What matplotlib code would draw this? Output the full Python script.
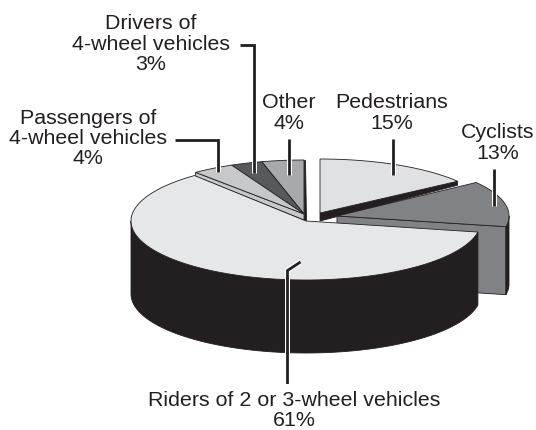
import numpy as np
import matplotlib
matplotlib.use("Agg")
import matplotlib.pyplot as plt
from matplotlib.patches import Polygon

categories = ["Pedestrians", "Cyclists", "Riders of 2 or 3-wheel vehicles",
              "Passengers of\n4-wheel vehicles", "Drivers of\n4-wheel vehicles", "Other"]
shares = [15, 13, 61, 4, 3, 4]
top_colors = ["#e0e1e3", "#808285", "#e6e7e8", "#c7c8ca", "#58595b", "#a7a9ac"]
DARK = "#231f20"
GREY = "#808285"
LIGHT = "#c7c8ca"
# slice centre x, y, radius x, radius y (pixels of the figure)
geometry = [(320, 213, 170, 54), (337, 216, 172, 57), (306, 221, 175, 59),
            (304, 214, 170, 54), (304, 214, 170, 54), (304, 214, 170, 54)]
DEPTH_CYCLISTS = 68
DEPTH_RIDERS = 73

plt.rcParams["font.family"] = ["Liberation Sans", "DejaVu Sans"]
fig = plt.figure(figsize=(5.36, 4.30), dpi=100)
ax = fig.add_axes([0, 0, 1, 1])
ax.set_xlim(0, 536)
ax.set_ylim(430, 0)
ax.axis("off")

ends = 90 - np.cumsum(shares) * 3.6
starts = ends + np.array(shares) * 3.6


def arc(g, a0, a1, n=160):
    t = np.radians(np.linspace(a0, a1, n))
    return np.column_stack([g[0] + g[2] * np.cos(t), g[1] - g[3] * np.sin(t)])


def point(g, a):
    return arc(g, a, a, 1)[0]


def poly(pts, fc, z, lw=0.6):
    ax.add_patch(Polygon(np.asarray(pts), closed=True, fc=fc, ec=DARK, lw=lw, zorder=z))


def top(i, z):
    g = geometry[i]
    poly(np.vstack([[g[0], g[1]], arc(g, starts[i], ends[i])]), top_colors[i], z)


def wall(i, lo, hi, depth, fc, z):
    f = arc(geometry[i], lo, hi)
    poly(np.vstack([f, (f + [0, depth])[::-1]]), fc, z)


def cut(i, angle, d_apex, d_tip, fc, z):
    g = geometry[i]
    apex = np.array([g[0], g[1]], float)
    tip = point(g, angle)
    poly([apex, tip, tip + [0, d_tip], apex + [0, d_apex]], fc, z)


# small upper slices with their thin side strips
g_other = geometry[5]
edge_top = point(g_other, ends[5])
poly([(g_other[0], g_other[1]), edge_top, edge_top + [1.5, 0],
      (g_other[0] + 1.5, g_other[1] + 6), (g_other[0], g_other[1] + 6)], DARK, 1)
top(5, 1.1)
top(4, 1.2)
cut(3, starts[3], 6, 4, LIGHT, 1.3)
top(3, 1.4)

# pedestrians with the black cut under its lower edge
cut(0, ends[0], 8, 4, DARK, 2)
top(0, 2.1)

# cyclists: cut face, short outer wall, top
cut(1, ends[1], DEPTH_CYCLISTS, DEPTH_CYCLISTS, GREY, 3)
wall(1, ends[1], 0, DEPTH_CYCLISTS, DARK, 3.1)
top(1, 3.2)

# riders: black front wall, top
wall(2, -180, starts[2], DEPTH_RIDERS, DARK, 4)
top(2, 4.1)

labels = [
    (392, 113, "Pedestrians\n15%"),
    (497.5, 143, "Cyclists\n13%"),
    (294, 410.5, "Riders of 2 or 3-wheel vehicles\n61%"),
    (88, 138.5, "Passengers of\n4-wheel vehicles\n4%"),
    (151, 44, "Drivers of\n4-wheel vehicles\n3%"),
    (289, 113, "Other\n4%"),
]
for x, y, s in labels:
    ax.text(x, y, s, ha="center", va="center", fontsize=15.4, color=DARK, linespacing=1.08, zorder=20)

leaders = [
    [(393, 139), (393, 175)],
    [(494, 169), (494, 206)],
    [(300.5, 262), (287.5, 270.5), (287.5, 384)],
    [(175, 140), (218, 140), (218, 172)],
    [(240, 45), (254, 45), (254, 173)],
    [(289, 139), (289, 175)],
]
for pts in leaders:
    xs, ys = zip(*pts)
    ax.plot(xs, ys, color="white", lw=3.6, zorder=10, solid_capstyle="butt", solid_joinstyle="miter")
    ax.plot(xs, ys, color=DARK, lw=2, zorder=11, solid_capstyle="butt", solid_joinstyle="miter")

fig.savefig("out.png", dpi=100)
